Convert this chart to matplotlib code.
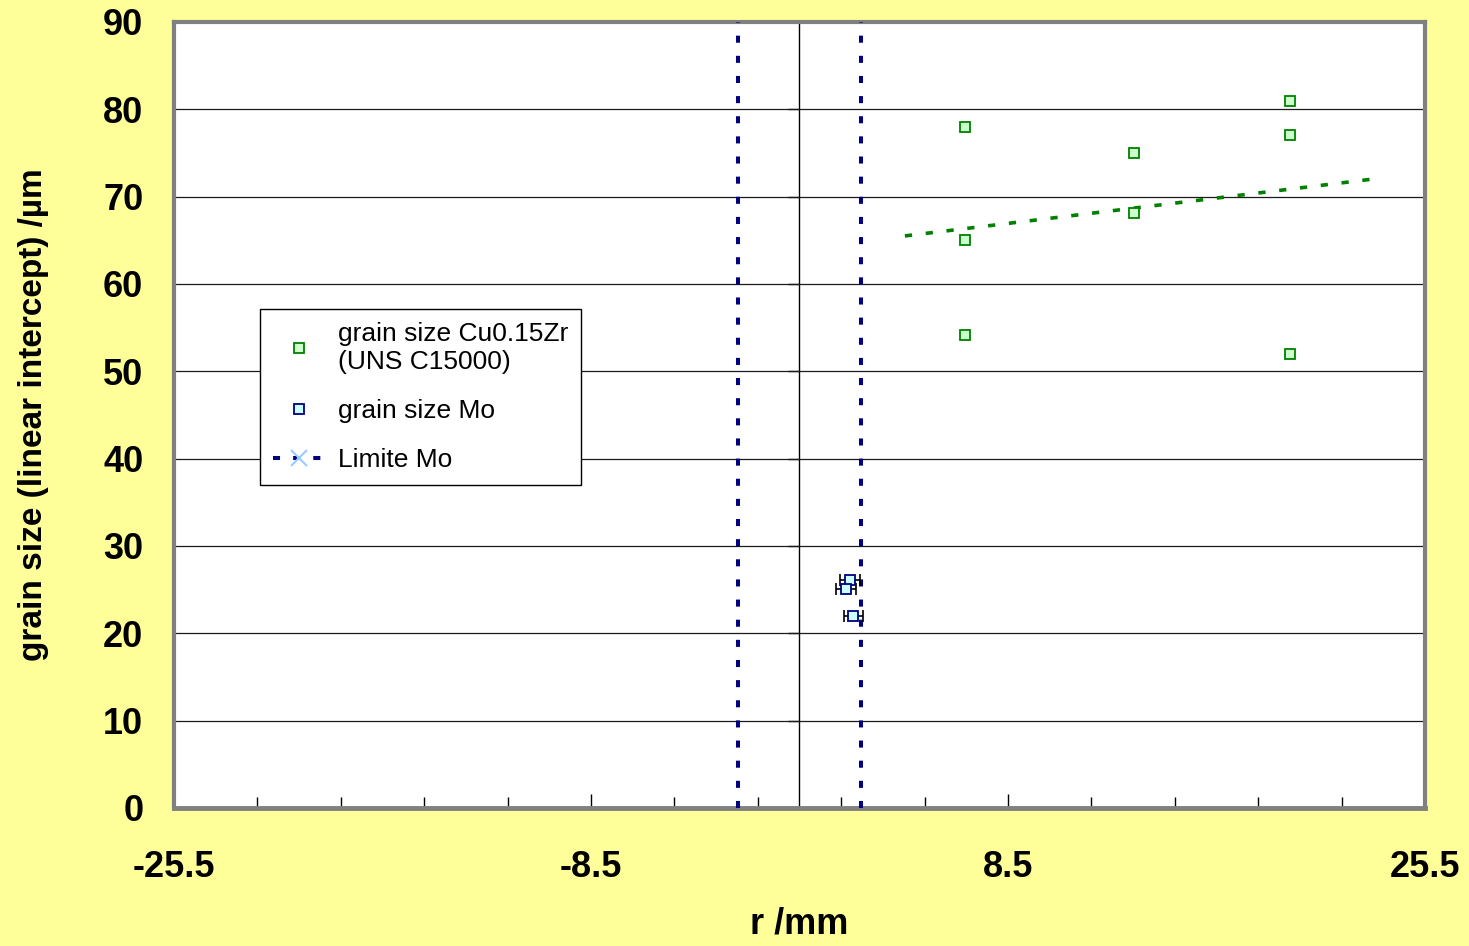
"""Grain size vs radial position: Cu0.15Zr and Mo, with Mo limits."""

import matplotlib.pyplot as plt
import numpy as np
from matplotlib.lines import Line2D

plt.rcParams["font.family"] = ["Liberation Sans", "DejaVu Sans"]

# Cu0.15Zr grain size (linear intercept), r in mm
cu_r = [6.75, 6.75, 6.75, 13.65, 13.65, 20.0, 20.0, 20.0]
cu_size = [78.0, 65.0, 54.2, 75.0, 68.1, 81.0, 77.1, 52.0]

# linear trend of the Cu0.15Zr series (end points as drawn)
trend_r = [4.3, 23.35]
trend_size = [65.5, 72.0]

# Mo grain size with error in r
mo_r = [2.05, 1.9, 2.2]
mo_size = [26.1, 25.1, 22.0]
mo_rerr = [0.4, 0.4, 0.4]

# Mo region limits
limit_r = [-2.5, 2.5]
limit_size = [0, 90]

x_major = [-25.5, -8.5, 8.5, 25.5]
x_labels = ["-25.5", "-8.5", "8.5", "25.5"]
y_ticks = [0, 10, 20, 30, 40, 50, 60, 70, 80, 90]

BG = "#FFFF99"
NAVY = "#000080"
GREEN = "#008000"

fig = plt.figure(figsize=(14.69, 9.46), dpi=100, facecolor=BG)
ax = fig.add_axes([0.1184, 0.1459, 0.8516, 0.8309])
ax.set_facecolor("white")

# limit lines
for r in limit_r:
    ax.plot([r, r], limit_size, color=NAVY, lw=2.9, dashes=(1.75, 3.25),
            dash_capstyle="butt", zorder=3)

# trend line
ax.plot(trend_r, trend_size, color=GREEN, lw=2.6, dashes=(2, 3.8),
        dash_capstyle="butt", zorder=3)

ax.plot(cu_r, cu_size, ls="none", marker="s", ms=7, mfc="#CCFFCC",
        mec=GREEN, mew=1.3, zorder=4)

ax.errorbar(mo_r, mo_size, xerr=mo_rerr, fmt="none", ecolor="black",
            elinewidth=1.2, capsize=4, capthick=1.2, zorder=4)
ax.plot(mo_r, mo_size, ls="none", marker="s", ms=7, mfc="#CCFFFF",
        mec=NAVY, mew=1.3, zorder=5)

ax.set_xlim(-25.5, 25.5)
ax.set_ylim(0, 90)

ax.set_xticks(x_major)
ax.set_xticklabels(x_labels)
ax.set_xticks(np.linspace(-25.5, 25.5, 16), minor=True)
ax.tick_params(axis="x", which="both", direction="in", top=False,
               color="black", width=1)
ax.tick_params(axis="x", which="major", length=10, pad=30, labelsize=26)
ax.tick_params(axis="x", which="minor", length=8)
ax.set_yticks(y_ticks)
ax.tick_params(axis="y", length=0, pad=22, labelsize=26)
for lab in ax.get_xticklabels() + ax.get_yticklabels():
    lab.set_fontweight("bold")

ax.yaxis.grid(True, color="#1a1a1a", lw=0.9)
ax.set_axisbelow(True)

for side in ["left", "right", "top"]:
    ax.spines[side].set_color("#808080")
    ax.spines[side].set_linewidth(3)
ax.spines["bottom"].set_color("#808080")
ax.spines["bottom"].set_linewidth(3.5)
ax.axhline(0, color="black", lw=1.5, zorder=2)

# value axis crossing at r = 0
sec = ax.secondary_yaxis(0.5)
sec.set_yticks(y_ticks)
sec.tick_params(axis="y", direction="in", length=8, width=1,
                labelright=False, labelleft=False)
sec.spines["right"].set_color("black")
sec.spines["right"].set_linewidth(1)

ax.set_xlabel("r /mm", fontsize=26, fontweight="bold", labelpad=16)
ax.set_ylabel("grain size (linear intercept) /\u00b5m", fontsize=24,
              fontweight="bold", labelpad=39)

handles = [
    Line2D([], [], ls="none", marker="s", ms=7, mfc="#CCFFCC", mec=GREEN, mew=1.3),
    Line2D([], [], ls="none", marker="s", ms=7, mfc="#CCFFFF", mec=NAVY, mew=1.3),
    Line2D([], [], color=NAVY, lw=2.9, dashes=(1.75, 3.25), marker="x", ms=12,
           mec="#99CCFF", mew=1.5),
]
labels = ["grain size Cu0.15Zr\n(UNS C15000)", "grain size Mo", "Limite Mo"]
leg = ax.legend(handles, labels, loc="upper left", bbox_to_anchor=(0.0687, 0.635),
                fontsize=19, frameon=True, fancybox=False, edgecolor="black",
                framealpha=1, borderpad=0.5, labelspacing=0.95, handlelength=2.0,
                handletextpad=0.45, borderaxespad=0)
leg.get_frame().set_linewidth(1)

fig.savefig("out.png", dpi=100, facecolor=BG)
